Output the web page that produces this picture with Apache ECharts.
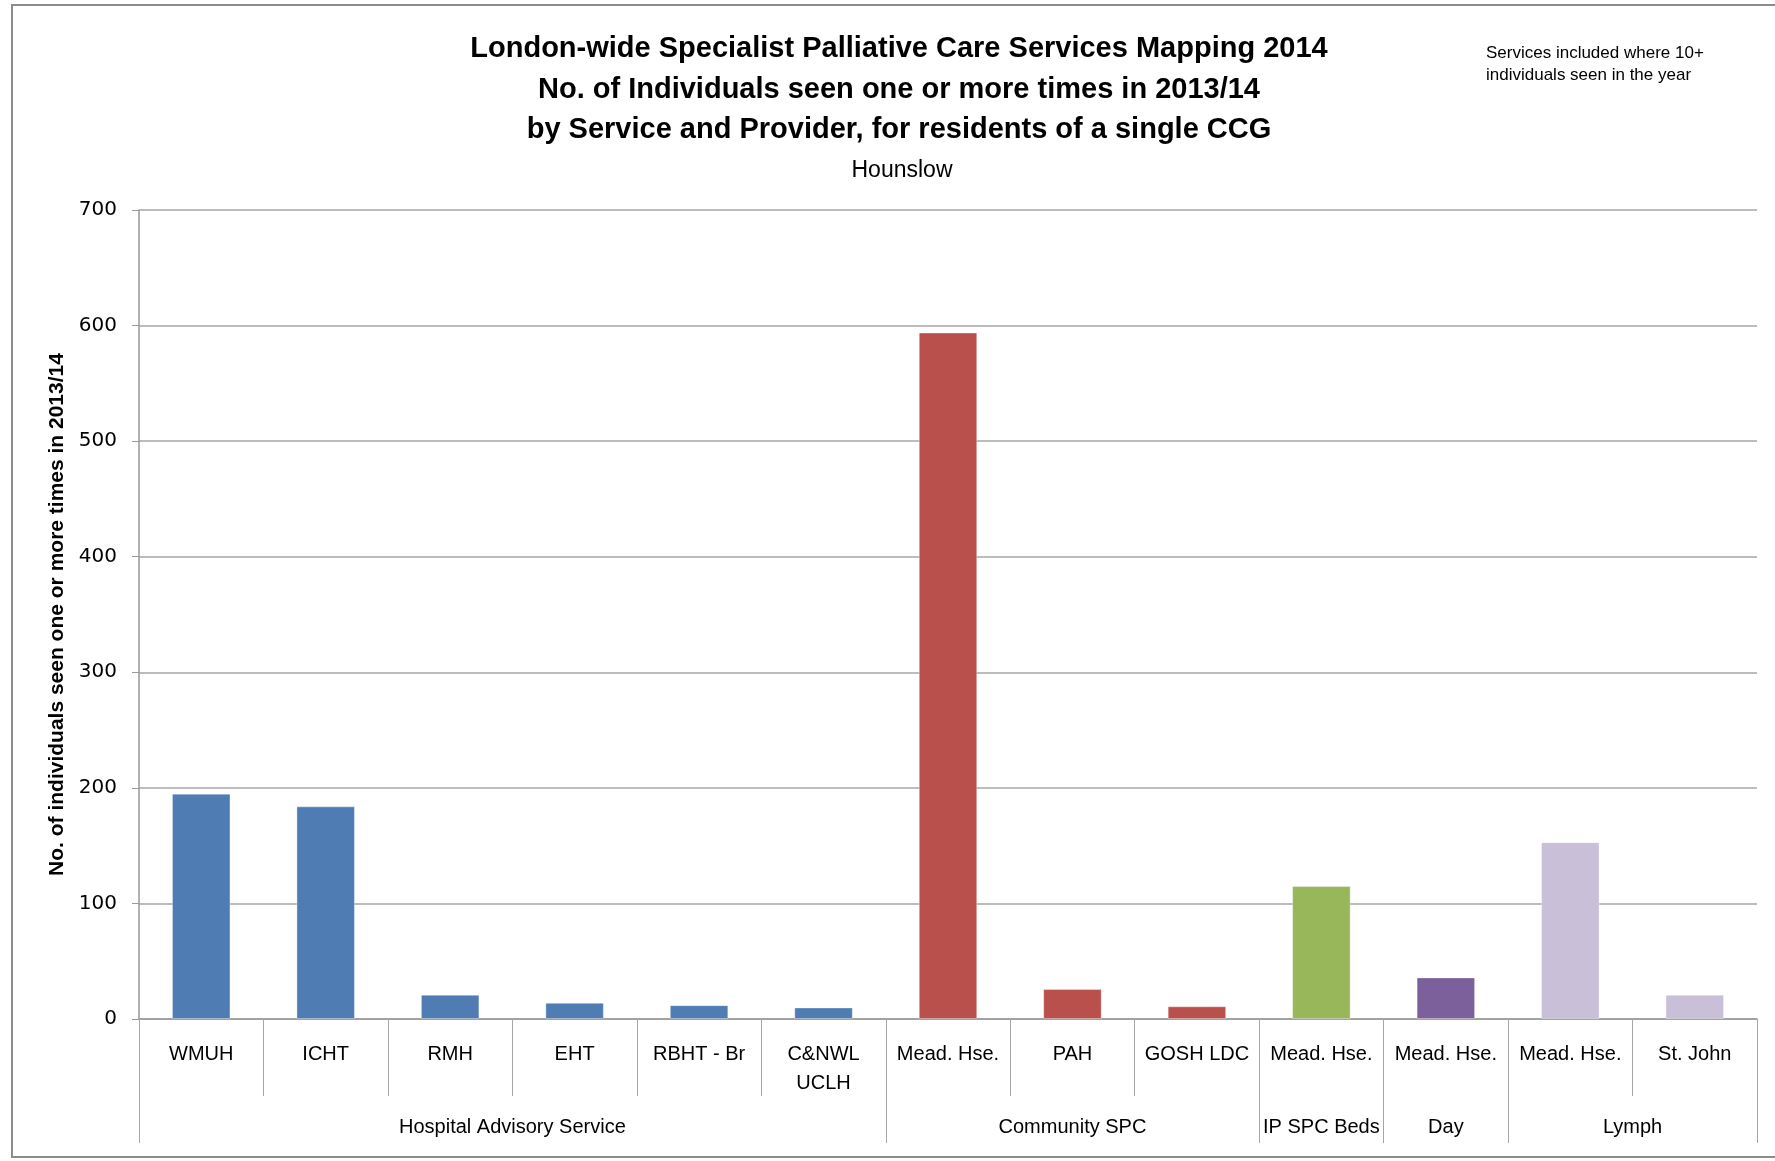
<!DOCTYPE html>
<html>
<head>
<meta charset="utf-8">
<script src="https://cdn.jsdelivr.net/npm/echarts@6/dist/echarts.min.js"></script>
<style>
html,body{margin:0;padding:0;background:#fff;overflow:hidden;width:1775px;height:1161px;}
#frame{position:absolute;left:11px;top:4px;width:1800px;height:1154px;border:2px solid #8c8c8c;box-sizing:border-box;}
#chart{position:absolute;left:0;top:0;width:1775px;height:1161px;}
</style>
</head>
<body>
<div id="frame"></div>
<div id="chart"></div>
<script>
const categories = ['WMUH','ICHT','RMH','EHT','RBHT - Br','C&NWL\nUCLH','Mead. Hse.','PAH','GOSH LDC','Mead. Hse.','Mead. Hse.','Mead. Hse.','St. John'];
const values = [195,184,21,14,12,10,594,26,11,115,36,153,21];
const groups = ['Hospital Advisory Service','Community SPC','IP SPC Beds','Day','Lymph'];
const groupSpans = [6,3,1,1,2];
const groupColors = ['#4e7cb3','#b9504c','#98b65a','#7c609c','#c9bfd8'];
const yTicks = [0,100,200,300,400,500,600,700];

const FONT = "'Liberation Sans Narrow','Liberation Sans',sans-serif";

// per-bar colours from group membership
const barColors = [];
groups.forEach((g,i)=>{ for(let k=0;k<groupSpans[i];k++) barColors.push(groupColors[i]); });

// group axis: 2*N+1 slots, boundaryGap false, boundaries at even slots
const nSlots = categories.length*2 + 1;
const groupSlots = new Array(nSlots).fill('');
const boundarySet = new Set([0]);
const centerSet = new Set();
let start = 0;
groups.forEach((g,i)=>{
  const end = start + groupSpans[i];
  const c = start + end;
  groupSlots[c] = g;
  centerSet.add(c);
  boundarySet.add(end*2);
  start = end;
});

const chart = echarts.init(document.getElementById('chart'));
chart.setOption({
  backgroundColor: 'transparent',
  animation: false,
  title: [
    {
      text: 'London-wide Specialist Palliative Care Services Mapping 2014\nNo. of Individuals seen one or more times in 2013/14\nby Service and Provider, for residents of a single CCG',
      left: 894, top: 24, textAlign: 'center',
      textStyle: {fontFamily: FONT, fontSize: 29, fontWeight: 'bold', color: '#000', lineHeight: 40.5}
    },
    {
      text: 'Hounslow',
      left: 897, top: 154, textAlign: 'center',
      textStyle: {fontFamily: FONT, fontSize: 23, fontWeight: 'normal', color: '#000'}
    },
    {
      text: 'Services included where 10+\nindividuals seen in the year',
      left: 1481, top: 37,
      textStyle: {fontFamily: FONT, fontSize: 17, fontWeight: 'normal', color: '#000', lineHeight: 22}
    }
  ],
  grid: {left: 139, right: 18, top: 210, bottom: 142, containLabel: false},
  xAxis: [
    {
      type: 'category',
      data: categories,
      position: 'bottom',
      axisLine: {show: true, lineStyle: {color: '#999', width: 1.5}},
      axisTick: {show: true, interval: 0, length: 77, lineStyle: {color: '#a6a6a6', width: 1}},
      axisLabel: {interval: 0, margin: 21, fontFamily: FONT, fontSize: 20, color: '#000', lineHeight: 29}
    },
    {
      type: 'category',
      data: groupSlots,
      boundaryGap: false,
      position: 'bottom',
      offset: 0,
      axisLine: {show: false},
      axisTick: {show: true, length: 124, interval: (idx)=>boundarySet.has(idx), lineStyle: {color: '#a6a6a6', width: 1}},
      axisLabel: {interval: (idx)=>centerSet.has(idx), margin: 98, fontFamily: FONT, fontSize: 20, color: '#000'}
    }
  ],
  yAxis: {
    type: 'value',
    min: yTicks[0], max: yTicks[yTicks.length-1], interval: yTicks[1]-yTicks[0],
    name: 'No. of individuals seen one or more times in 2013/14',
    nameLocation: 'middle', nameGap: 70,
    nameTextStyle: {fontFamily: FONT, fontSize: 21, fontWeight: 'bold', color: '#000'},
    axisLine: {show: true, lineStyle: {color: '#999', width: 1.5}},
    axisTick: {show: true, length: 7, lineStyle: {color: '#999'}},
    axisLabel: {margin: 22, fontFamily: "'DejaVu Sans',sans-serif", fontSize: 20, color: '#000'},
    splitLine: {show: true, lineStyle: {color: '#a6a6a6', width: 1.5}}
  },
  series: [{
    type: 'bar',
    xAxisIndex: 0,
    data: values.map((v,i)=>({value: v, itemStyle: {color: barColors[i]}})),
    barWidth: '47%',
    itemStyle: {borderColor: 'rgba(255,255,255,0.35)', borderWidth: 1}
  }]
});
</script>
</body>
</html>
